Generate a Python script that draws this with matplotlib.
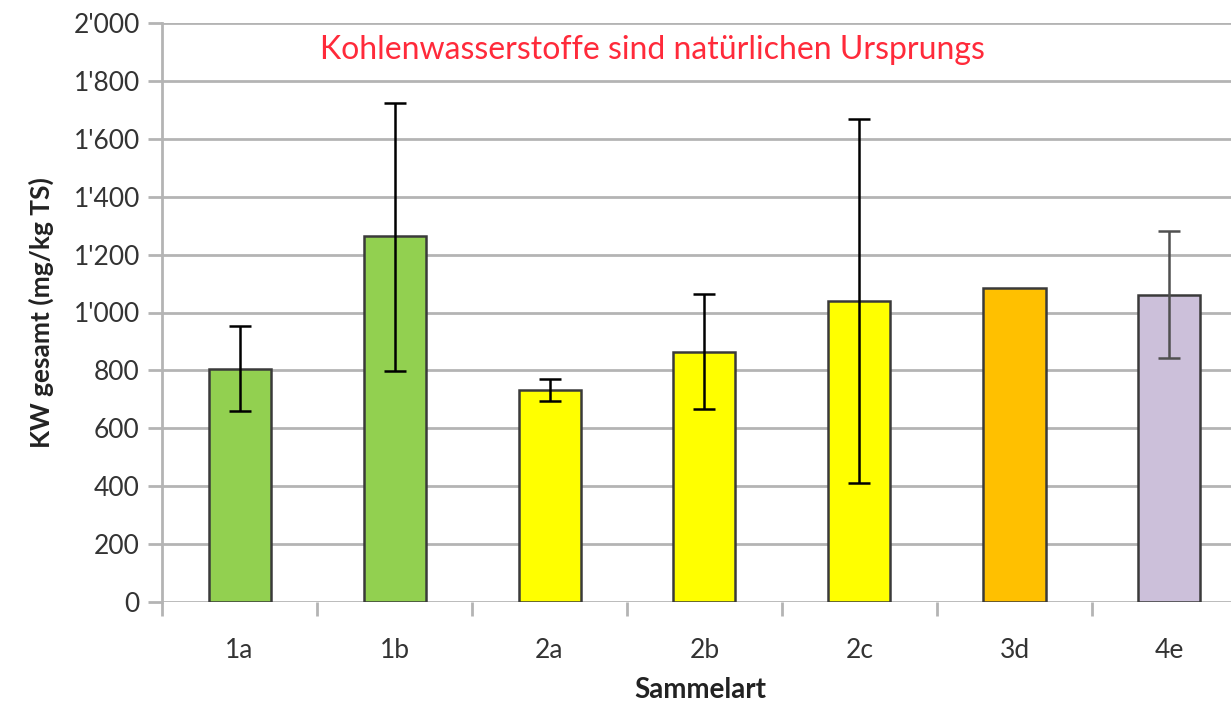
import numpy as np
import matplotlib.pyplot as plt
from matplotlib.ticker import FuncFormatter

# Werte
kategorien = ["1a", "1b", "2a", "2b", "2c", "3d", "4e"]
mittelwerte = [806, 1263, 734, 862, 1040, 1086, 1060]
fehler_unten = [661, 799, 694, 666, 410, 1086, 842]
fehler_oben = [955, 1725, 770, 1063, 1668, 1086, 1281]
farben = ["#92D050", "#92D050", "#FFFF00", "#FFFF00", "#FFFF00", "#FFC000", "#CCC0DA"]
fehler_farben = ["black", "black", "black", "black", "black", "black", "#505050"]

plt.rcParams['font.family'] = ['Lato', 'DejaVu Sans']

fig = plt.figure(figsize=(12.31, 7.06), dpi=100)
# Achse reicht rechts ueber den Bildrand hinaus (Original ist abgeschnitten)
ax = fig.add_axes([162 / 1231, 1 - 602 / 706, 1085 / 1231, 579 / 706])

x = np.arange(len(kategorien))
ax.bar(x, mittelwerte, width=0.4, color=farben, edgecolor="#3a3a3a", linewidth=1.8, zorder=2)

for i in range(len(kategorien)):
    if fehler_oben[i] == fehler_unten[i]:
        continue
    ax.errorbar(x[i], mittelwerte[i],
                yerr=[[mittelwerte[i] - fehler_unten[i]], [fehler_oben[i] - mittelwerte[i]]],
                fmt="none", ecolor=fehler_farben[i], elinewidth=1.8, capsize=8, capthick=1.8, zorder=3)

ax.set_xlim(-0.5, len(kategorien) - 0.5)
ax.set_ylim(0, 2000)
ax.set_yticks(np.arange(0, 2001, 200))
ax.yaxis.set_major_formatter(FuncFormatter(lambda v, p: "{:,.0f}".format(v).replace(",", "'")))
ax.set_xticks(x)
ax.set_xticklabels(kategorien)
ax.set_xticks(np.arange(-0.5, len(kategorien), 1), minor=True)

ax.grid(axis="y", color="#b4b4b4", linewidth=2, zorder=0)
ax.set_axisbelow(True)
for s in ["top", "right", "bottom"]:
    ax.spines[s].set_visible(False)
ax.spines["left"].set_color("#b4b4b4")
ax.spines["left"].set_linewidth(2)

ax.tick_params(axis="y", length=10, width=2, color="#b4b4b4", labelsize=19, labelcolor="#333333", pad=6)
ax.tick_params(axis="x", which="major", length=0, labelsize=19, labelcolor="#333333", pad=26)
ax.tick_params(axis="x", which="minor", length=10, width=2, color="#b4b4b4")

ax.set_ylabel("KW gesamt (mg/kg TS)", fontsize=19, fontweight="bold", color="#222222", labelpad=14)
fig.text(700 / 1231, 1 - 690 / 706, "Sammelart", fontsize=20, fontweight="bold", color="#222222",
         ha="center", va="center")

fig.text(652 / 1231, 1 - 50 / 706, "Kohlenwasserstoffe sind natürlichen Ursprungs",
         fontsize=23, color="#ff2a3a", ha="center", va="center")

fig.savefig("out.png", dpi=100)
